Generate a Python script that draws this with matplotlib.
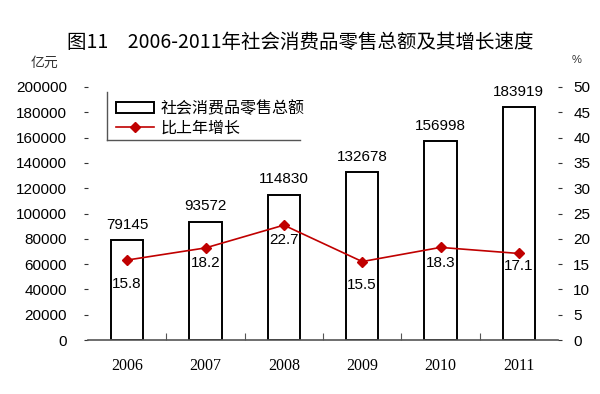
import matplotlib
matplotlib.use("Agg")
import matplotlib.pyplot as plt
from matplotlib.lines import Line2D
import numpy as np

years = ["2006", "2007", "2008", "2009", "2010", "2011"]
sales = [79145, 93572, 114830, 132678, 156998, 183919]
growth = [15.8, 18.2, 22.7, 15.5, 18.3, 17.1]
left_ticks = [0, 20000, 40000, 60000, 80000, 100000, 120000, 140000, 160000, 180000, 200000]
right_ticks = [0, 5, 10, 15, 20, 25, 30, 35, 40, 45, 50]

CJK = ["Noto Sans CJK SC", "DejaVu Sans"]
NUM = ["Liberation Sans", "DejaVu Sans"]
SERIF = ["Liberation Serif", "DejaVu Serif"]

fig = plt.figure(figsize=(6.0, 3.94), dpi=100)
ax = fig.add_axes([88/600, 1-340/394, 470/600, 253/394])
ax2 = ax.twinx()

x = np.arange(len(years))
ax.bar(x, sales, width=0.41, color="white", edgecolor="black", linewidth=1.4, zorder=2)
ax.set_ylim(0, 200000)
ax.set_xlim(-0.5, len(years)-0.5)
ax.set_yticks(left_ticks)
ax.set_yticklabels([str(v) for v in left_ticks], fontfamily=NUM, fontsize=11)
ax.tick_params(axis="y", length=3, width=0.8, pad=12, color="#333333")
ax.set_xticks(x)
ax.set_xticklabels(years, fontfamily=SERIF, fontsize=11.5)
ax.tick_params(axis="x", length=0, pad=13)
ax.set_xticks(np.arange(len(years)-1) + 0.5, minor=True)
ax.tick_params(axis="x", which="minor", direction="in", length=5, width=0.8, color="#555555")
for s in ["top", "left", "right"]:
    ax.spines[s].set_visible(False)
ax.spines["bottom"].set_color("#555555")
ax.spines["bottom"].set_linewidth(1.2)

for xi, v in zip(x, sales):
    ax.annotate(str(v), (xi, v), xytext=(0, 6), textcoords="offset points",
                ha="center", va="bottom", fontfamily=NUM, fontsize=11)

ax2.plot(x, growth, color="#C00000", marker="D", markersize=5, linewidth=1.2, zorder=3)
ax2.set_ylim(0, 50)
ax2.set_yticks(right_ticks)
ax2.set_yticklabels([str(v) for v in right_ticks], fontfamily=NUM, fontsize=11)
ax2.tick_params(axis="y", length=3, width=0.8, pad=8, color="#333333")
for s in ["top", "left", "right", "bottom"]:
    ax2.spines[s].set_visible(False)

offsets = [-12, -6, -6, -12, -6, -4]
for xi, v, off in zip(x, growth, offsets):
    ax2.annotate(f"{v}", (xi, v), xytext=(0, off), textcoords="offset points",
                 ha="center", va="top", fontfamily=NUM, fontsize=11)

# legend
handles = [plt.Rectangle((0, 0), 1, 1, facecolor="white", edgecolor="black", linewidth=1.4),
           Line2D([], [], color="#C00000", marker="D", markersize=5, linewidth=1.2)]
leg = ax.legend(handles, ["社会消费品零售总额", "比上年增长"], loc="upper left",
                bbox_to_anchor=(0.045, 0.975), frameon=False,
                prop={"family": CJK, "size": 11.5}, handlelength=2.4, handletextpad=0.4,
                labelspacing=0.2, borderaxespad=0.0)
leg.set_zorder(5)
# legend border: left and bottom edges only
ax.add_line(Line2D([0.04, 0.04], [0.79, 0.98], transform=ax.transAxes, color="#555555", lw=1.0, clip_on=False))
ax.add_line(Line2D([0.04, 0.45], [0.79, 0.79], transform=ax.transAxes, color="#555555", lw=1.0, clip_on=False))

fig.text(0.5, 1-42/394, "图11　2006-2011年社会消费品零售总额及其增长速度", ha="center", va="center",
         fontfamily=CJK, fontsize=14, fontweight="medium")
fig.text(44/600, 1-63/394, "亿元", ha="center", va="center", fontfamily=CJK, fontsize=10,
         fontweight="light", color="#333333")
fig.text(577/600, 1-60/394, "%", ha="center", va="center", fontfamily=NUM, fontsize=8, color="#333333")

fig.savefig("out.png", dpi=100, facecolor="white")
